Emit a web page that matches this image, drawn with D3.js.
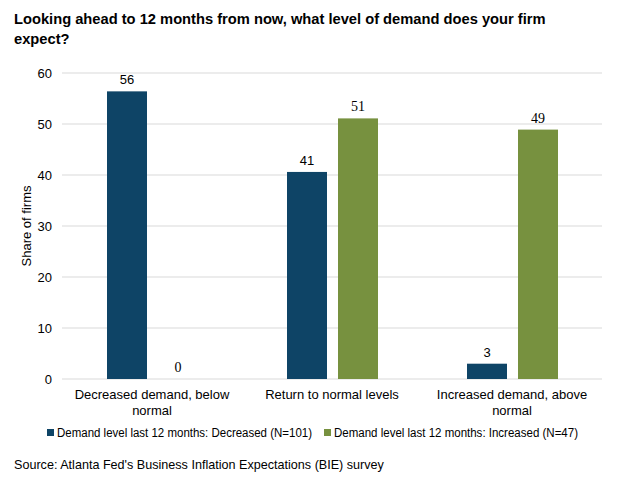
<!DOCTYPE html>
<html>
<head>
<meta charset="utf-8">
<script src="https://cdn.jsdelivr.net/npm/d3@7"></script>
<style>
  body { margin: 0; background: #fff; }
  text { font-family: Arial, "Liberation Sans", sans-serif; fill: #000; }
</style>
</head>
<body>
<div id="chart"></div>
<script>
const categories = [["Decreased demand, below", "normal"], ["Return to normal levels"], ["Increased demand, above", "normal"]];
const seriesNames = ["Demand level last 12 months: Decreased (N=101)", "Demand level last 12 months: Increased (N=47)"];
const decreased = [56.4, 40.6, 3.0];
const increased = [0, 51.1, 48.9];
const yTicks = [0, 10, 20, 30, 40, 50, 60];
const colors = ["#0e4466", "#77913f"];

const W = 619, H = 487;
const m = { left: 62, right: 17, top: 73, bottom: 108 };

const svg = d3.select("#chart").append("svg")
  .attr("width", W)
  .attr("height", H);

svg.append("text").attr("x", 14).attr("y", 24)
  .style("font-size", "14.7px").style("font-weight", "bold")
  .text("Looking ahead to 12 months from now, what level of demand does your firm");
svg.append("text").attr("x", 14).attr("y", 44)
  .style("font-size", "14.7px").style("font-weight", "bold")
  .text("expect?");

const x0 = d3.scaleBand().domain(d3.range(3)).range([m.left, W - m.right]);
// two bars of ~40px with an 11px gap, starting 45px into each group
const x1 = d3.scaleBand().domain([0, 1]).range([45, 136]).paddingInner(0.216);
const y = d3.scaleLinear().domain([0, 60]).range([H - m.bottom, m.top]);

// gridlines
svg.append("g").selectAll("line").data(yTicks).enter().append("line")
  .attr("x1", m.left).attr("x2", W - m.right)
  .attr("y1", d => y(d)).attr("y2", d => y(d))
  .attr("stroke", "#d9d9d9").attr("stroke-width", 1);

// y tick labels
svg.append("g").selectAll("text").data(yTicks).enter().append("text")
  .attr("x", 52).attr("y", d => y(d) + 4.5)
  .attr("text-anchor", "end").style("font-size", "13px")
  .text(d => d);

svg.append("text")
  .attr("transform", "translate(31," + y(30) + ") rotate(-90)")
  .attr("text-anchor", "middle").style("font-size", "13px")
  .text("Share of firms");

const data = [];
[decreased, increased].forEach((vals, s) => {
  vals.forEach((v, i) => data.push({ cat: i, s: s, v: v }));
});

svg.append("g").selectAll("rect").data(data).enter().append("rect")
  .attr("x", d => x0(d.cat) + x1(d.s))
  .attr("width", x1.bandwidth())
  .attr("y", d => y(d.v))
  .attr("height", d => y(0) - y(d.v))
  .attr("fill", d => colors[d.s]);

svg.append("g").selectAll("text").data(data).enter().append("text")
  .attr("x", d => x0(d.cat) + x1(d.s) + x1.bandwidth() / 2)
  .attr("y", d => y(d.v) - 7)
  .attr("text-anchor", "middle")
  .style("font-size", d => d.s === 1 ? "14px" : "13px")
  .style("font-family", d => d.s === 1 ? "'Liberation Serif', 'Times New Roman', serif" : null)
  .text(d => Math.round(d.v));

// x category labels
categories.forEach((lines, i) => {
  const t = svg.append("text")
    .attr("x", x0(i) + x0.bandwidth() / 2)
    .attr("y", H - m.bottom + 20)
    .attr("text-anchor", "middle").style("font-size", "13px");
  lines.forEach((l, j) => {
    t.append("tspan").attr("x", x0(i) + x0.bandwidth() / 2).attr("dy", j === 0 ? 0 : 16).text(l);
  });
});

// legend
const legX = [47, 324];
const legW = [255, 244];
seriesNames.forEach((n, i) => {
  svg.append("rect").attr("x", legX[i]).attr("y", 429).attr("width", 7).attr("height", 7).attr("fill", colors[i]);
  svg.append("text").attr("x", legX[i] + 10).attr("y", 437)
    .attr("textLength", legW[i]).attr("lengthAdjust", "spacingAndGlyphs")
    .style("font-size", "12.5px").text(n);
});

svg.append("text").attr("x", 14).attr("y", 469).style("font-size", "12.6px")
  .text("Source: Atlanta Fed's Business Inflation Expectations (BIE) survey");
</script>
</body>
</html>
